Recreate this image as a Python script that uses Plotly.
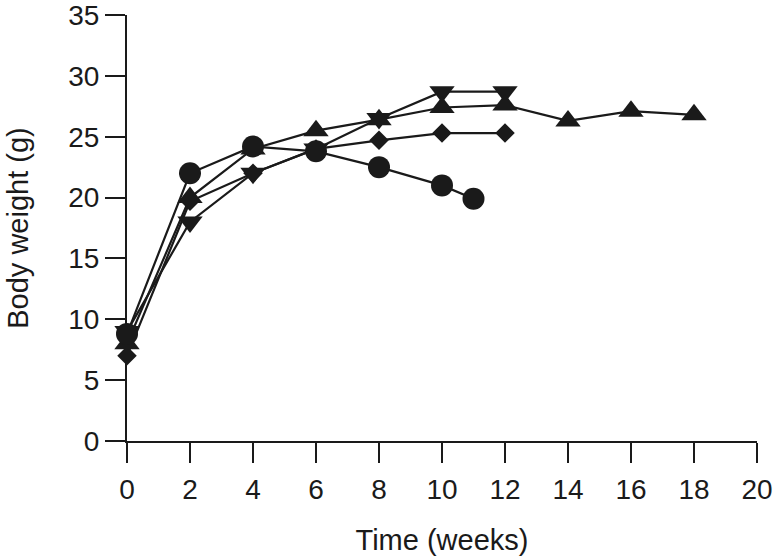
import plotly.graph_objects as go

circle_x = [0, 2, 4, 6, 8, 10, 11]
circle_y = [8.8, 22.0, 24.2, 23.8, 22.5, 21.0, 19.9]

tri_up_x = [0, 2, 4, 6, 8, 10, 12, 14, 16, 18]
tri_up_y = [8.0, 20.0, 24.0, 25.5, 26.4, 27.4, 27.6, 26.3, 27.1, 26.8]

diamond_x = [0, 2, 4, 6, 8, 10, 12]
diamond_y = [7.0, 19.7, 22.0, 24.0, 24.7, 25.3, 25.3]

tri_down_x = [0, 2, 4, 6, 8, 10, 12]
tri_down_y = [9.0, 18.0, 22.0, 24.0, 26.5, 28.7, 28.7]

x_ticks = list(range(0, 21, 2))
y_ticks = list(range(0, 36, 5))

fig = go.Figure()

def add(x, y, symbol, size):
    fig.add_trace(go.Scatter(
        x=x, y=y, mode="lines+markers",
        line=dict(color="#1a1a1a", width=2.2),
        marker=dict(symbol=symbol, size=size, color="#1a1a1a"),
        showlegend=False, cliponaxis=False,
    ))

add(diamond_x, diamond_y, "diamond", 15)
add(tri_down_x, tri_down_y, "triangle-down", 22)
add(tri_up_x, tri_up_y, "triangle-up", 22)
add(circle_x, circle_y, "circle", 22)

fam = "Liberation Sans, Arial, Helvetica, sans-serif"
font = dict(family=fam, size=28, color="#1a1a1a")
tfont = dict(family=fam, size=29, color="#1a1a1a")

fig.update_layout(
    width=773, height=556,
    margin=dict(l=127, r=16, t=15, b=115),
    plot_bgcolor="white", paper_bgcolor="white",
    font=font,
    xaxis=dict(
        range=[0, 20], tickvals=x_ticks, ticks="outside", ticklen=20, tickwidth=2,
        tickcolor="#1a1a1a", showline=True, linecolor="#1a1a1a", linewidth=2,
        showgrid=False, zeroline=False, tickfont=font, ticklabeloverflow="allow",
        ticklabelstandoff=2,
        title=dict(text="Time (weeks)", font=tfont, standoff=26),
        automargin=False,
    ),
    yaxis=dict(
        range=[0, 35], tickvals=y_ticks, ticks="outside", ticklen=20, tickwidth=2,
        tickcolor="#1a1a1a", showline=True, linecolor="#1a1a1a", linewidth=2,
        showgrid=False, zeroline=False, tickfont=font, ticklabeloverflow="allow",
        title=dict(text="Body weight (g)", font=tfont, standoff=31),
        automargin=False,
    ),
)

fig.write_html("out.html", config={"displayModeBar": False},
               post_script="document.body.style.margin='0';")
